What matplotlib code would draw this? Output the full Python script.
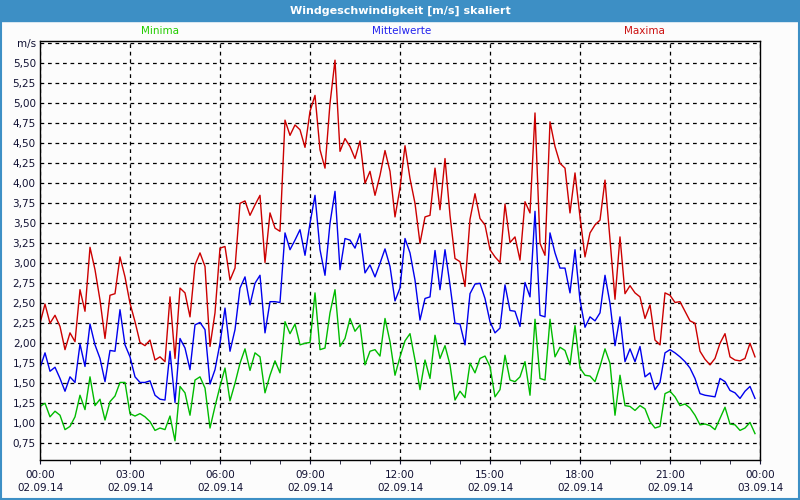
import numpy as np
import pandas as pd
import matplotlib
matplotlib.use("Agg")
import matplotlib.pyplot as plt
import matplotlib.dates as mdates
from matplotlib.ticker import FuncFormatter, FixedLocator
from matplotlib.patches import Rectangle

# 10-minute values, 02.09.14 00:00 .. 23:50
times = pd.date_range("2014-09-02 00:00", periods=144, freq="10min")

maxima = [2.25, 2.49, 2.25, 2.35, 2.21, 1.92, 2.13, 2.02, 2.67, 2.40,
          3.20, 2.92, 2.54, 2.06, 2.60, 2.62, 3.08, 2.83, 2.50, 2.27,
          2.01, 1.97, 2.04, 1.79, 1.83, 1.77, 2.58, 1.81, 2.69, 2.63,
          2.33, 2.98, 3.13, 2.96, 1.96, 2.38, 3.19, 3.21, 2.79, 2.94,
          3.75, 3.78, 3.60, 3.73, 3.85, 3.01, 3.63, 3.44, 3.40, 4.79,
          4.60, 4.73, 4.67, 4.45, 4.90, 5.10, 4.42, 4.19, 5.00, 5.54,
          4.40, 4.56, 4.46, 4.31, 4.53, 4.00, 4.15, 3.85, 4.10, 4.41,
          4.15, 3.58, 3.94, 4.47, 4.06, 3.75, 3.25, 3.58, 3.60, 4.19,
          3.67, 4.31, 3.60, 3.06, 3.02, 2.71, 3.55, 3.87, 3.56, 3.48,
          3.17, 3.08, 3.01, 3.74, 3.26, 3.33, 3.04, 3.77, 3.63, 4.88,
          3.25, 3.10, 4.77, 4.46, 4.25, 4.19, 3.63, 4.13, 3.58, 3.08,
          3.38, 3.48, 3.54, 4.04, 3.29, 2.55, 3.33, 2.62, 2.72, 2.63,
          2.58, 2.31, 2.48, 2.04, 1.98, 2.63, 2.60, 2.51, 2.52, 2.40,
          2.28, 2.25, 1.90, 1.80, 1.73, 1.81, 2.00, 2.12, 1.83, 1.79,
          1.78, 1.81, 2.00, 1.83]

mittel = [1.69, 1.88, 1.65, 1.70, 1.56, 1.40, 1.58, 1.51, 1.99, 1.71,
          2.24, 1.98, 1.81, 1.52, 1.91, 1.90, 2.42, 1.98, 1.83, 1.58,
          1.51, 1.51, 1.53, 1.35, 1.30, 1.29, 1.90, 1.26, 2.06, 1.94,
          1.67, 2.23, 2.26, 2.17, 1.49, 1.67, 2.00, 2.44, 1.90, 2.17,
          2.69, 2.83, 2.48, 2.75, 2.85, 2.13, 2.52, 2.52, 2.51, 3.38,
          3.17, 3.29, 3.42, 3.10, 3.50, 3.85, 3.17, 2.85, 3.50, 3.90,
          2.92, 3.31, 3.29, 3.19, 3.37, 2.88, 2.98, 2.83, 3.00, 3.18,
          2.96, 2.53, 2.69, 3.31, 3.13, 2.79, 2.29, 2.56, 2.58, 3.16,
          2.67, 3.17, 2.73, 2.25, 2.24, 1.98, 2.62, 2.74, 2.75, 2.56,
          2.27, 2.13, 2.19, 2.73, 2.41, 2.40, 2.21, 2.76, 2.58, 3.65,
          2.35, 2.33, 3.38, 3.13, 2.94, 2.94, 2.63, 3.17, 2.54, 2.20,
          2.33, 2.28, 2.38, 2.85, 2.50, 1.97, 2.33, 1.77, 1.93, 1.77,
          1.96, 1.58, 1.63, 1.42, 1.51, 1.88, 1.92, 1.88, 1.83, 1.77,
          1.69, 1.56, 1.37, 1.35, 1.34, 1.33, 1.56, 1.52, 1.41, 1.38,
          1.31, 1.40, 1.46, 1.31]

minima = [1.21, 1.25, 1.08, 1.15, 1.10, 0.92, 0.96, 1.08, 1.35, 1.17,
          1.58, 1.22, 1.30, 1.04, 1.27, 1.34, 1.51, 1.51, 1.12, 1.09,
          1.12, 1.08, 1.02, 0.91, 0.94, 0.92, 1.09, 0.78, 1.46, 1.38,
          1.10, 1.54, 1.58, 1.44, 0.94, 1.21, 1.46, 1.69, 1.28, 1.50,
          1.75, 1.93, 1.66, 1.88, 1.83, 1.38, 1.60, 1.78, 1.63, 2.27,
          2.12, 2.24, 1.98, 2.00, 2.01, 2.63, 1.92, 1.94, 2.38, 2.67,
          1.96, 2.06, 2.31, 2.15, 2.23, 1.73, 1.90, 1.92, 1.84, 2.31,
          2.02, 1.60, 1.83, 2.03, 2.12, 1.79, 1.42, 1.79, 1.56, 2.10,
          1.81, 1.97, 1.73, 1.29, 1.40, 1.32, 1.75, 1.63, 1.81, 1.84,
          1.71, 1.33, 1.42, 1.85, 1.54, 1.52, 1.58, 1.77, 1.35, 2.30,
          1.56, 1.54, 2.30, 1.83, 1.95, 1.91, 1.73, 2.22, 1.69, 1.60,
          1.59, 1.52, 1.71, 1.93, 1.75, 1.10, 1.60, 1.22, 1.21, 1.16,
          1.22, 1.18, 1.02, 0.94, 0.96, 1.37, 1.40, 1.33, 1.22, 1.24,
          1.19, 1.10, 0.98, 0.99, 0.97, 0.92, 1.06, 1.20, 0.99, 0.98,
          0.91, 0.94, 1.01, 0.87]

yticks = [0.75, 1.0, 1.25, 1.5, 1.75, 2.0, 2.25, 2.5, 2.75, 3.0,
          3.25, 3.5, 3.75, 4.0, 4.25, 4.5, 4.75, 5.0, 5.25, 5.5, 5.75]

title_blue = "#3d8fc5"
fig = plt.figure(figsize=(8, 5), dpi=100, facecolor="#fcfcfc")

# title bar and frame
fig.patches.append(Rectangle((0, 0.958), 1, 0.042, transform=fig.transFigure,
                             color=title_blue, zorder=0))
fig.patches.append(Rectangle((0.001, 0.002), 0.998, 0.996, transform=fig.transFigure,
                             fill=False, edgecolor=title_blue, lw=1.5, zorder=1))
fig.text(0.5, 0.979, "Windgeschwindigkeit [m/s] skaliert", color="white",
         ha="center", va="center", fontsize=8, fontweight="bold")

ax = fig.add_axes([0.05, 0.08, 0.90, 0.838])
ax.set_facecolor("#fcfcfc")

ax.plot(times, maxima, color="#cc0000", lw=1.0)
ax.plot(times, mittel, color="#0000ee", lw=1.0)
ax.plot(times, minima, color="#00bb00", lw=1.0)

fig.text(0.2, 0.937, "Minima", color="#22cc00", ha="center", va="center", fontsize=7.5)
fig.text(0.5025, 0.937, "Mittelwerte", color="#2222ee", ha="center", va="center", fontsize=7.5)
fig.text(0.806, 0.937, "Maxima", color="#cc1111", ha="center", va="center", fontsize=7.5)

x0 = pd.Timestamp("2014-09-02 00:00")
x1 = pd.Timestamp("2014-09-03 00:00")
ax.set_xlim(x0, x1)
ax.set_ylim(0.54, 5.78)

ax.xaxis.set_major_locator(mdates.HourLocator(byhour=range(0, 24, 3)))
ax.xaxis.set_minor_locator(mdates.HourLocator())
ax.xaxis.set_major_formatter(mdates.DateFormatter("%H:%M\n%d.%m.%y"))

ax.yaxis.set_major_locator(FixedLocator(yticks))
ax.yaxis.set_major_formatter(FuncFormatter(
    lambda v, p: "m/s" if v > 5.7 else f"{v:.2f}".replace(".", ",")))

ax.grid(True, which="major", color="black", linestyle=(0, (3, 3)), lw=0.9)
ax.tick_params(axis="both", which="both", labelsize=7.5, colors="#111133", direction="out")
ax.tick_params(axis="x", which="major", length=3, pad=4)
ax.tick_params(axis="x", which="minor", length=3)
ax.tick_params(axis="y", length=0, pad=3)
for lab in ax.get_xticklabels():
    lab.set_linespacing(1.45)
for s in ax.spines.values():
    s.set_color("black")
    s.set_linewidth(1.0)

fig.savefig("out.png", dpi=100, facecolor=fig.get_facecolor())
